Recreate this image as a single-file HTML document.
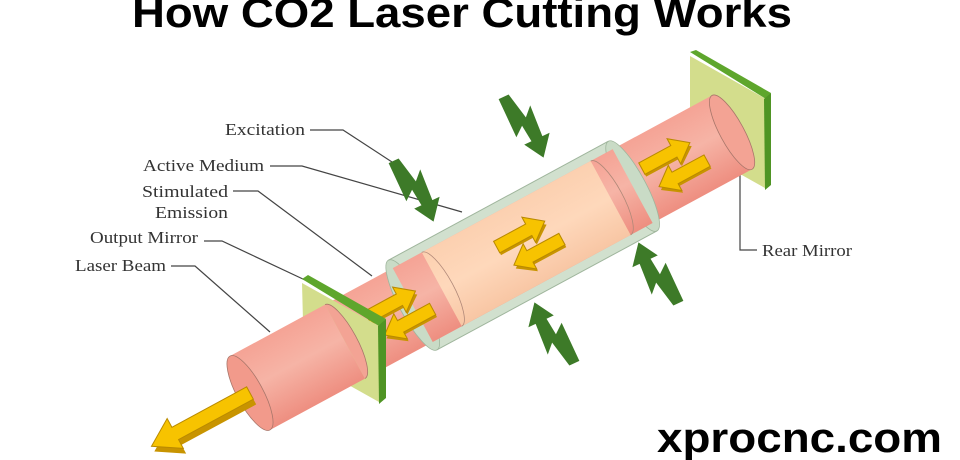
<!DOCTYPE html>
<html><head><meta charset="utf-8"><style>
html,body{margin:0;padding:0;background:#fff;width:960px;height:460px;overflow:hidden}
svg{display:block}
.lbl{font-family:"Liberation Serif",serif;font-size:17px;fill:#333}
</style></head><body>
<svg width="960" height="460" viewBox="0 0 960 460" xmlns="http://www.w3.org/2000/svg">
<defs>
<linearGradient id="pk" x1="0" y1="0" x2="0" y2="1">
<stop offset="0" stop-color="#f5a395"/><stop offset="0.45" stop-color="#f6b4a6"/><stop offset="1" stop-color="#ee8e80"/></linearGradient>
<linearGradient id="pc" x1="0" y1="0" x2="0" y2="1">
<stop offset="0" stop-color="#fcd0b0"/><stop offset="0.5" stop-color="#fed8bb"/><stop offset="1" stop-color="#f8c6a4"/></linearGradient>
<g id="ya">
<polygon points="-22,-1 6,-1 6,-7 20,3 6,13 6,7 -22,7" fill="#c89400"/>
<polygon points="-22,-5 6,-5 6,-11 20,0 6,11 6,5 -22,5" fill="#f7c300" stroke="#b98a00" stroke-width="0.8"/>
</g>
<g id="pair">
<use href="#ya" transform="translate(0,-11) scale(1.3)"/>
<use href="#ya" transform="translate(4,13) scale(-1.3,1.3)"/>
</g>
<g id="bolt">
<polygon points="-9,-36 2,-36 8,-8 17,-17 15,16 23,16 7,36 -5,16 3,16 1,-2 -9,6" fill="#3d7a28"/>
</g>
</defs>

<text x="132" y="27" font-family="Liberation Sans,sans-serif" font-weight="bold" font-size="42" textLength="660" lengthAdjust="spacingAndGlyphs" fill="#000">How CO2 Laser Cutting Works</text>

<!-- rear mirror -->
<polygon points="690,56 766,99 765,188 690,146" fill="#d3dd8c"/>
<polygon points="690,52 696,50 771,93 766,99" fill="#5ea62c"/>
<polygon points="764,99 771,93 771,185 765,190" fill="#4f9424"/>

<g fill="none" stroke="#444" stroke-width="1.2">
<polyline points="310,130 343,130 392,162"/>
<polyline points="270,166 302,166 462,212"/>
<polyline points="233,191 258,191 372,276"/>
<polyline points="204,241 222,241 305,280"/>
<polyline points="171,266 195,266 270,332"/>
<polyline points="740,172 740,250 757,250"/>
</g>

<g transform="translate(250,393) rotate(-28.4)">
  <rect x="108" y="-42" width="440" height="84" fill="url(#pk)"/>
  <ellipse cx="548" cy="0" rx="12" ry="42" fill="#f3a394" stroke="#a8766a" stroke-width="0.8"/>
  <rect x="185" y="-51" width="250" height="102" fill="#c9dbc6" opacity="0.85"/>
  <ellipse cx="185" cy="0" rx="13" ry="51" fill="#c9dbc6" stroke="#9fb59c" stroke-width="0.8"/>
  <ellipse cx="435" cy="0" rx="13" ry="51" fill="#c9dbc6" stroke="#9fb59c" stroke-width="0.8"/>
  <rect x="185" y="-42" width="250" height="84" fill="url(#pk)"/>
  <rect x="218" y="-42" width="192" height="84" fill="url(#pc)"/>
  <path d="M218,-42 A12,42 0 0 1 218,42" fill="none" stroke="#b08878" stroke-width="0.8"/>
  <path d="M410,-42 A12,42 0 0 1 410,42" fill="none" stroke="#b08878" stroke-width="0.8"/>
  <line x1="185" y1="-51" x2="435" y2="-51" stroke="#9fb59c" stroke-width="1"/>
  <line x1="185" y1="51" x2="435" y2="51" stroke="#9fb59c" stroke-width="1"/>
  <use href="#pair" transform="translate(168,0)"/>
  <use href="#pair" transform="translate(315,0)"/>
  <use href="#pair" transform="translate(480,0)"/>
</g>

<polygon points="302,283 379,326 379,402 304,360" fill="#d3dd8c"/>
<polygon points="302,279 308,275 386,319 379,326" fill="#5ea62c"/>
<polygon points="378,326 386,319 386,398 379,404" fill="#4f9424"/>

<g transform="translate(250,393) rotate(-28.4)">
  <rect x="0" y="-42" width="108" height="84" fill="url(#pk)"/>
  <path d="M108,-42 A12,42 0 0 1 108,42" fill="#f3a394" stroke="#a8766a" stroke-width="0.8"/>
  <ellipse cx="0" cy="0" rx="13" ry="42" fill="#f29a8b" stroke="#a8766a" stroke-width="0.8"/>
  <polygon points="0,-1 -85,-1 -85,-11 -112,6 -85,23 -85,13 0,13" fill="#c89400"/>
  <polygon points="0,-7 -85,-7 -85,-17 -112,0 -85,17 -85,7 0,7" fill="#f7c300" stroke="#b98a00" stroke-width="1"/>
</g>

<use href="#bolt" transform="translate(522,128) rotate(-25)"/>
<use href="#bolt" transform="translate(412,192) rotate(-25)"/>
<use href="#bolt" transform="translate(556,332) rotate(155)"/>
<use href="#bolt" transform="translate(660,272) rotate(155)"/>

<text class="lbl" x="225" y="135" textLength="80" lengthAdjust="spacingAndGlyphs">Excitation</text>
<text class="lbl" x="143" y="171" textLength="121" lengthAdjust="spacingAndGlyphs">Active Medium</text>
<text class="lbl" x="142" y="197" textLength="86" lengthAdjust="spacingAndGlyphs">Stimulated</text>
<text class="lbl" x="155" y="218" textLength="73" lengthAdjust="spacingAndGlyphs">Emission</text>
<text class="lbl" x="90" y="243" textLength="108" lengthAdjust="spacingAndGlyphs">Output Mirror</text>
<text class="lbl" x="75" y="271" textLength="91" lengthAdjust="spacingAndGlyphs">Laser Beam</text>
<text class="lbl" x="762" y="256" textLength="90" lengthAdjust="spacingAndGlyphs">Rear Mirror</text>

<text x="657" y="452" font-family="Liberation Sans,sans-serif" font-weight="bold" font-size="42" textLength="285" lengthAdjust="spacingAndGlyphs" fill="#000">xprocnc.com</text>
</svg>
</body></html>
